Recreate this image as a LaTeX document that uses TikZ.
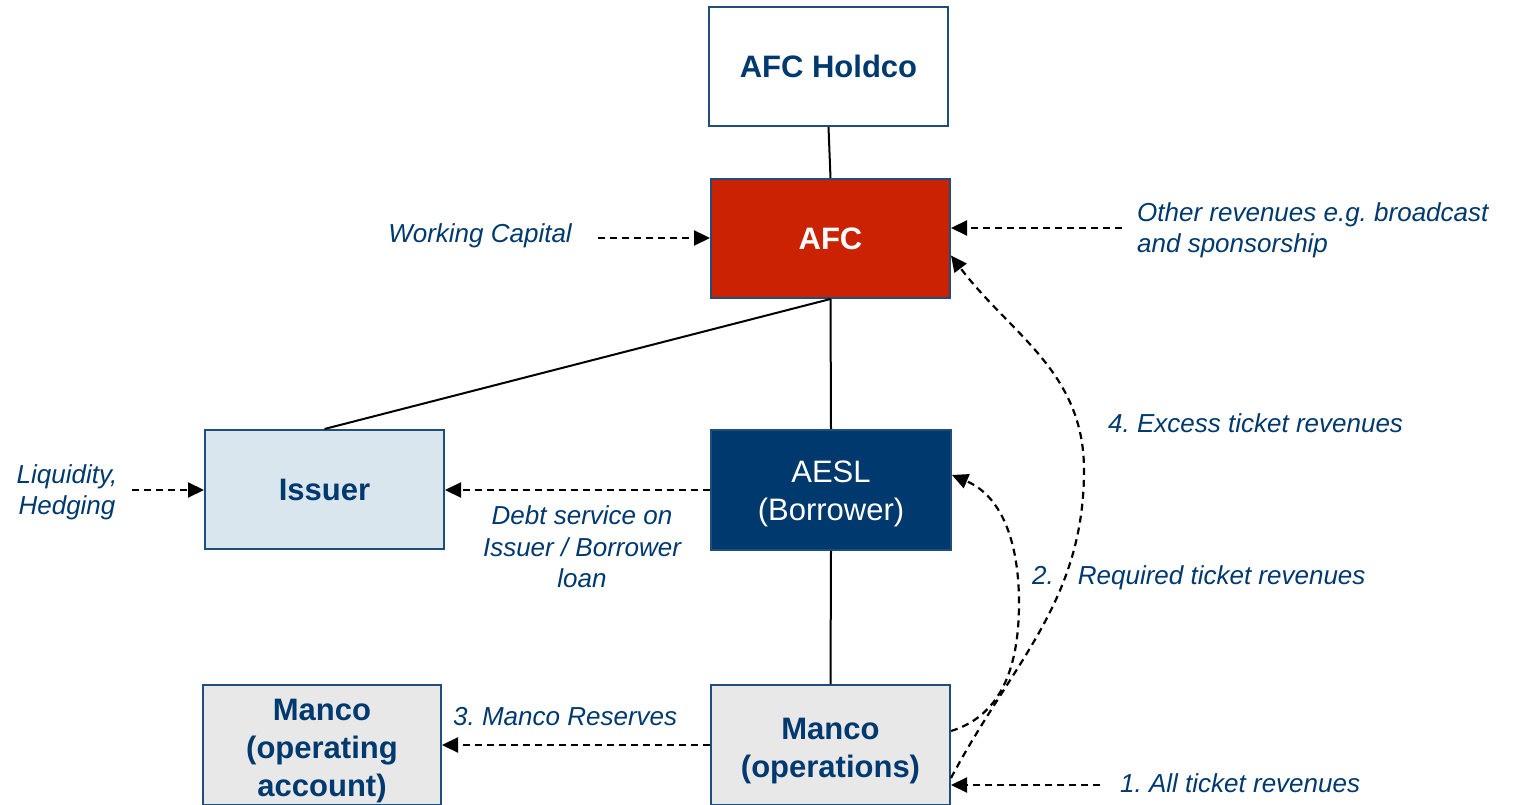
\documentclass[tikz,border=0pt]{standalone}
\usepackage{fontspec}
\setmainfont{Liberation Sans}
\usetikzlibrary{arrows.meta}
\definecolor{navy}{RGB}{0,57,110}
\definecolor{edgeblue}{RGB}{31,78,121}
\definecolor{afcred}{RGB}{204,34,4}
\definecolor{issuerfill}{RGB}{218,230,237}
\definecolor{mancofill}{RGB}{232,232,232}
\frenchspacing
\begin{document}
\begin{tikzpicture}[x=1pt,y=1pt,
  box/.style={draw=edgeblue, line width=2pt, minimum width=239pt, minimum height=119pt,
    inner sep=0pt, align=center, font=\fontsize{31}{38}\selectfont\bfseries, text=navy},
  lbl/.style={font=\fontsize{26}{31.5}\selectfont\itshape, text=navy, inner sep=0pt},
  solidline/.style={line width=2pt, black},
  flow/.style={line width=2.2pt, black, dash pattern=on 7pt off 5pt,
    -{Triangle[length=16pt,width=15pt]}}]
\useasboundingbox (0,0) rectangle (1519,804);
\clip (0,0) rectangle (1519,804);

% boxes
\node[box, fill=white] (holdco) at (828.5,737.5) {AFC Holdco};
\node[box, fill=afcred, text=white] (afc) at (830.5,565.5) {AFC};
\node[box, fill=issuerfill] (issuer) at (324.5,314.5) {Issuer};
\node[box, fill=navy, text=white, minimum width=240pt, minimum height=120pt,
      font=\fontsize{31}{38}\selectfont] (aesl) at (831,314) {\rule{0pt}{29pt}AESL\\(Borrower)};
\node[box, fill=mancofill, minimum width=238pt, minimum height=120pt] (macct) at (322,59) {\rule{0pt}{33pt}Manco\\(operating\\account)};
\node[box, fill=mancofill, minimum height=120pt] (mops) at (830.5,59) {\rule{0pt}{33pt}Manco\\(operations)};

% ownership lines
\draw[solidline] (holdco.south) -- (afc.north);
\draw[solidline] (afc.south) -- (issuer.north);
\draw[solidline] (afc.south) -- (aesl.north);
\draw[solidline] (aesl.south) -- (mops.north);

% straight flows
\coordinate (wcS) at (598,566);
\draw[flow] (wcS) -- (wcS -| afc.west);
\coordinate (orS) at (1122,576);
\draw[flow] (orS) -- (orS -| afc.east);
\coordinate (liqS) at (132,314);
\draw[flow] (liqS) -- (liqS -| issuer.west);
\draw[flow] (aesl.west) -- (aesl.west -| issuer.east);
\draw[flow] (mops.west) -- (mops.west -| macct.east);
\coordinate (allS) at (1100,19);
\draw[flow] (allS) -- (allS -| mops.east);

% curved flows
\coordinate (c2s) at ([yshift=14pt]mops.east);
\coordinate (c2m) at (1019,201);
\coordinate (c2e) at ([yshift=15pt]aesl.east);
\draw[flow] (c2s) to[out=17,in=-90] (c2m) to[out=90,in=-23] (c2e);
\coordinate (c4s) at ([yshift=-33pt]mops.east);
\coordinate (c4m) at (1084,334);
\coordinate (c4e) at ([yshift=-17pt]afc.east);
\draw[flow] (c4s) to[out=62,in=-90] (c4m) to[out=90,in=-53] (c4e);

% labels
\node[lbl, anchor=base east] (wc) at (572,561) {Working Capital};
\node[lbl, anchor=base west, align=left] (or) at (1137,551) {Other revenues e.g. broadcast\\and sponsorship};
\node[lbl, anchor=base, align=center] (liq) at (67,289) {Liquidity,\\Hedging};
\node[lbl, anchor=base, align=center] (ds) at (582,216) {Debt service on\\Issuer / Borrower\\loan};
\node[lbl, anchor=base west] (mr) at (453,79) {3. Manco Reserves};
\node[lbl, anchor=base west] (ex) at (1108,371) {4. Excess ticket revenues};
\node[lbl, anchor=base west] (rq) at (1032,219) {2.\hspace{24pt}Required ticket revenues};
\node[lbl, anchor=base west] (all) at (1120,12) {1. All ticket revenues};
\end{tikzpicture}
\end{document}
